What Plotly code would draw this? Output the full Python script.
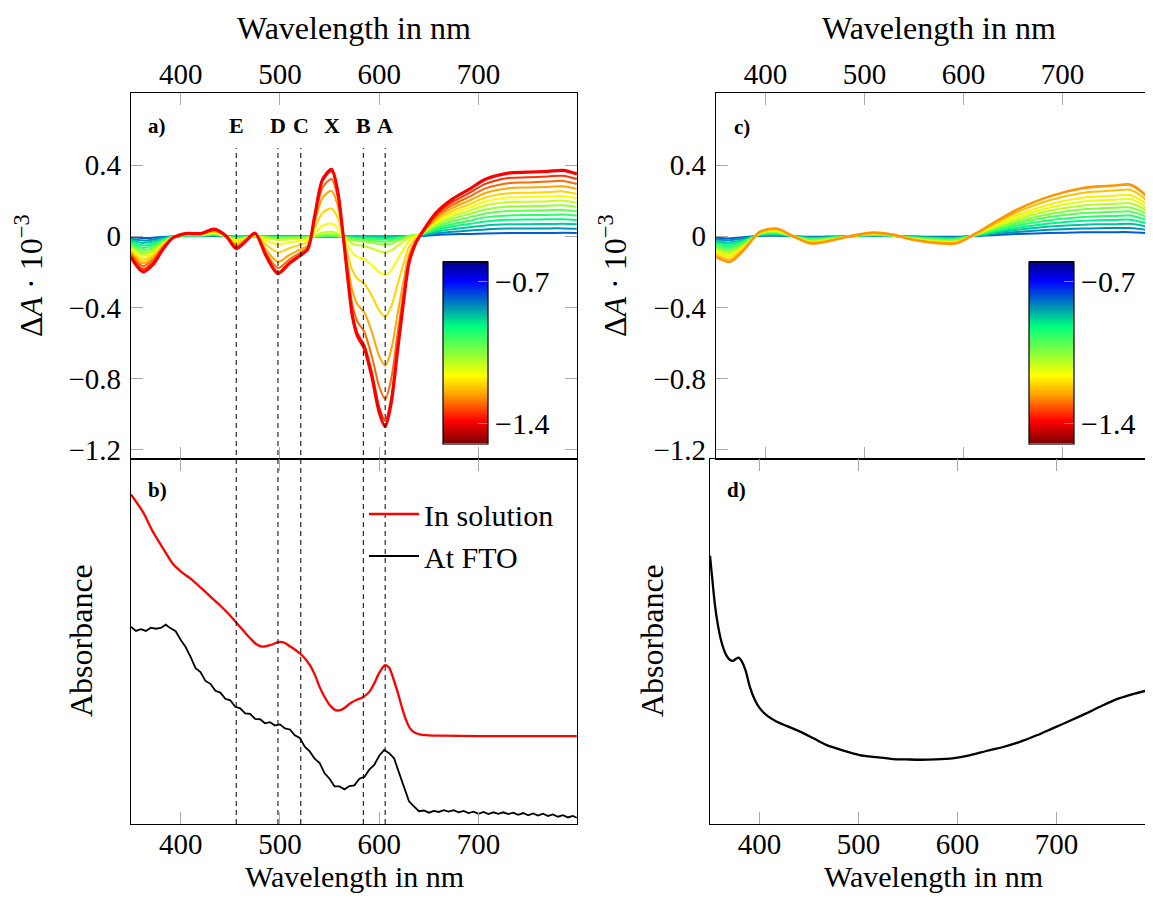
import plotly.graph_objects as go
from plotly.colors import sample_colorscale

OFF = 8                      # page body margin around the figure
W, H = 1153 - 2 * OFF, 903 - 2 * OFF   # figure fits the window without scrollbars
FONT = "Liberation Serif, Times New Roman, serif"

# ---------------- data: panel a (transient spectra, Delta A * 1e3) ----------------
WL_A = [350, 362, 372, 382, 392, 405, 420, 434, 446, 456, 466,
        475, 486, 498, 510, 520, 528, 535, 543, 552, 558, 563,
        568, 573, 578, 585, 593, 600, 606, 612, 618, 624, 630,
        637, 643, 657, 674, 691, 707, 730, 750, 770, 785, 799]

dA_a_01 = [-0.006, -0.010, -0.008, -0.004, -0.001, 0.001, 0.001, 0.002, 0.000, -0.002, -0.001,
           0.000, 0.000, -0.001, -0.001, -0.001, -0.001, -0.001, -0.001, -0.001, -0.001, -0.001,
           -0.001, -0.001, -0.001, -0.001, -0.001, -0.001, -0.001, -0.001, 0.000, 0.000, 0.001,
           0.001, 0.002, 0.007, 0.011, 0.013, 0.016, 0.018, 0.018, 0.018, 0.019, 0.018]
dA_a_02 = [-0.014, -0.024, -0.019, -0.009, -0.001, 0.002, 0.002, 0.004, 0.000, -0.004, -0.002,
           0.000, -0.001, -0.001, -0.001, -0.001, -0.001, -0.001, -0.001, -0.001, -0.001, -0.001,
           -0.001, -0.001, -0.001, -0.001, -0.001, -0.001, -0.001, -0.001, -0.001, 0.000, 0.001,
           0.002, 0.004, 0.016, 0.025, 0.032, 0.038, 0.043, 0.043, 0.044, 0.044, 0.042]
dA_a_03 = [-0.023, -0.038, -0.030, -0.014, -0.002, 0.003, 0.003, 0.006, 0.000, -0.006, -0.003,
           0.000, -0.001, -0.002, -0.002, -0.002, -0.002, -0.002, -0.002, -0.002, -0.002, -0.002,
           -0.002, -0.002, -0.002, -0.002, -0.002, -0.002, -0.002, -0.002, -0.001, 0.000, 0.002,
           0.004, 0.007, 0.025, 0.040, 0.050, 0.061, 0.067, 0.068, 0.069, 0.070, 0.067]
dA_a_04 = [-0.031, -0.052, -0.042, -0.020, -0.003, 0.004, 0.004, 0.008, 0.000, -0.008, -0.004,
           0.000, -0.002, -0.005, -0.004, -0.004, -0.003, -0.001, 0.001, 0.001, 0.000, -0.002,
           -0.005, -0.007, -0.008, -0.009, -0.010, -0.012, -0.013, -0.012, -0.008, -0.004, 0.001,
           0.005, 0.009, 0.034, 0.055, 0.069, 0.083, 0.092, 0.094, 0.095, 0.096, 0.091]
dA_a_05 = [-0.040, -0.066, -0.053, -0.025, -0.003, 0.005, 0.005, 0.010, 0.000, -0.011, -0.005,
           0.000, -0.003, -0.006, -0.005, -0.005, -0.004, -0.001, 0.002, 0.003, 0.001, -0.003,
           -0.006, -0.010, -0.012, -0.013, -0.015, -0.018, -0.019, -0.017, -0.012, -0.006, 0.001,
           0.006, 0.011, 0.043, 0.069, 0.087, 0.106, 0.117, 0.119, 0.120, 0.122, 0.116]
dA_a_06 = [-0.048, -0.080, -0.064, -0.030, -0.004, 0.006, 0.006, 0.012, 0.000, -0.013, -0.006,
           0.000, -0.005, -0.009, -0.008, -0.007, -0.006, -0.001, 0.004, 0.006, 0.003, -0.003,
           -0.009, -0.015, -0.018, -0.020, -0.024, -0.029, -0.031, -0.027, -0.019, -0.010, 0.000,
           0.007, 0.014, 0.052, 0.084, 0.106, 0.128, 0.142, 0.144, 0.146, 0.148, 0.140]
dA_a_07 = [-0.056, -0.094, -0.075, -0.035, -0.005, 0.007, 0.007, 0.014, 0.000, -0.016, -0.007,
           0.001, -0.007, -0.013, -0.010, -0.009, -0.007, 0.000, 0.009, 0.011, 0.006, -0.003,
           -0.013, -0.022, -0.027, -0.030, -0.036, -0.044, -0.047, -0.042, -0.029, -0.016, -0.002,
           0.007, 0.016, 0.061, 0.099, 0.125, 0.150, 0.167, 0.169, 0.172, 0.174, 0.165]
dA_a_08 = [-0.065, -0.108, -0.086, -0.041, -0.005, 0.008, 0.008, 0.017, 0.000, -0.019, -0.009,
           0.001, -0.011, -0.021, -0.017, -0.013, -0.010, 0.005, 0.021, 0.025, 0.016, -0.001,
           -0.022, -0.041, -0.049, -0.055, -0.069, -0.084, -0.090, -0.080, -0.056, -0.031, -0.008,
           0.006, 0.018, 0.070, 0.113, 0.143, 0.173, 0.192, 0.194, 0.197, 0.200, 0.189]
dA_a_09 = [-0.073, -0.122, -0.098, -0.046, -0.006, 0.009, 0.009, 0.020, 0.000, -0.026, -0.011,
           0.003, -0.024, -0.046, -0.034, -0.026, -0.019, 0.019, 0.060, 0.071, 0.048, 0.004,
           -0.048, -0.094, -0.116, -0.130, -0.164, -0.202, -0.218, -0.192, -0.135, -0.078, -0.026,
           0.001, 0.018, 0.079, 0.128, 0.162, 0.195, 0.217, 0.220, 0.223, 0.226, 0.214]
dA_a_10 = [-0.082, -0.136, -0.109, -0.051, -0.007, 0.010, 0.010, 0.025, 0.000, -0.037, -0.014,
           0.007, -0.047, -0.091, -0.066, -0.049, -0.033, 0.045, 0.132, 0.155, 0.107, 0.014,
           -0.095, -0.192, -0.238, -0.267, -0.339, -0.418, -0.452, -0.397, -0.281, -0.164, -0.060,
           -0.009, 0.018, 0.088, 0.143, 0.180, 0.218, 0.241, 0.245, 0.248, 0.252, 0.238]
dA_a_11 = [-0.091, -0.152, -0.122, -0.057, -0.008, 0.011, 0.011, 0.030, 0.000, -0.050, -0.018,
           0.012, -0.075, -0.144, -0.103, -0.076, -0.051, 0.077, 0.217, 0.255, 0.176, 0.026,
           -0.150, -0.307, -0.382, -0.429, -0.545, -0.674, -0.728, -0.640, -0.453, -0.265, -0.101,
           -0.022, 0.016, 0.099, 0.160, 0.201, 0.243, 0.270, 0.274, 0.277, 0.281, 0.266]
dA_a_12 = [-0.101, -0.168, -0.134, -0.063, -0.008, 0.013, 0.013, 0.034, 0.000, -0.060, -0.021,
           0.015, -0.094, -0.179, -0.128, -0.094, -0.062, 0.098, 0.274, 0.322, 0.222, 0.034,
           -0.188, -0.385, -0.479, -0.538, -0.684, -0.846, -0.915, -0.804, -0.569, -0.333, -0.128,
           -0.030, 0.016, 0.109, 0.176, 0.223, 0.269, 0.298, 0.302, 0.307, 0.311, 0.294]
dA_a_13 = [-0.110, -0.184, -0.147, -0.069, -0.009, 0.014, 0.014, 0.037, 0.000, -0.066, -0.024,
           0.016, -0.107, -0.203, -0.145, -0.106, -0.070, 0.111, 0.311, 0.365, 0.253, 0.039,
           -0.213, -0.436, -0.543, -0.611, -0.775, -0.960, -1.037, -0.911, -0.645, -0.378, -0.146,
           -0.035, 0.018, 0.120, 0.193, 0.244, 0.294, 0.327, 0.331, 0.336, 0.340, 0.322]
dA_a_14 = [-0.120, -0.200, -0.160, -0.075, -0.010, 0.015, 0.015, 0.040, 0.000, -0.070, -0.025,
           0.017, -0.110, -0.210, -0.150, -0.110, -0.073, 0.114, 0.320, 0.376, 0.260, 0.040,
           -0.220, -0.450, -0.560, -0.630, -0.800, -0.990, -1.070, -0.940, -0.665, -0.390, -0.150,
           -0.035, 0.020, 0.130, 0.210, 0.265, 0.320, 0.355, 0.360, 0.365, 0.370, 0.350]

# colour value (colour-bar quantity) of each spectrum in panel a
COLOR_VAL_A = [-0.78, -0.83, -0.875, -0.92, -0.97, -1.02, -1.065,
               -1.115, -1.16, -1.21, -1.255, -1.305, -1.35, -1.40]

# ---------------- data: panel c (transient spectra, Delta A * 1e3) ----------------
WL_C = [350, 364, 378, 394, 411, 428, 445, 462, 485, 509, 529, 549, 576,
        593, 613, 630, 654, 687, 721, 738, 753, 768, 780, 791, 799]

dA_c_01 = [-0.009, -0.012, -0.006, 0.002, 0.003, 0.000, -0.003, -0.002, 0.000, 0.002, 0.001, -0.002, -0.003,
           -0.003, 0.001, 0.006, 0.012, 0.018, 0.022, 0.022, 0.023, 0.023, 0.020, 0.015, 0.014]
dA_c_02 = [-0.019, -0.023, -0.012, 0.004, 0.007, 0.000, -0.006, -0.005, 0.000, 0.003, 0.001, -0.003, -0.006,
           -0.006, 0.003, 0.012, 0.024, 0.036, 0.043, 0.045, 0.046, 0.046, 0.040, 0.030, 0.027]
dA_c_03 = [-0.028, -0.035, -0.019, 0.006, 0.010, 0.000, -0.010, -0.007, 0.000, 0.005, 0.002, -0.005, -0.010,
           -0.010, 0.004, 0.018, 0.036, 0.054, 0.065, 0.067, 0.068, 0.070, 0.060, 0.046, 0.041]
dA_c_04 = [-0.037, -0.046, -0.025, 0.008, 0.014, 0.000, -0.013, -0.010, 0.000, 0.006, 0.003, -0.006, -0.013,
           -0.013, 0.005, 0.024, 0.048, 0.072, 0.087, 0.090, 0.091, 0.093, 0.080, 0.061, 0.054]
dA_c_05 = [-0.046, -0.058, -0.031, 0.010, 0.017, 0.000, -0.016, -0.012, 0.000, 0.008, 0.003, -0.008, -0.016,
           -0.016, 0.007, 0.030, 0.060, 0.090, 0.108, 0.112, 0.114, 0.116, 0.100, 0.076, 0.068]
dA_c_06 = [-0.056, -0.069, -0.037, 0.012, 0.021, 0.000, -0.019, -0.014, 0.000, 0.010, 0.004, -0.010, -0.019,
           -0.019, 0.008, 0.036, 0.072, 0.108, 0.130, 0.134, 0.137, 0.139, 0.120, 0.091, 0.082]
dA_c_07 = [-0.065, -0.081, -0.044, 0.013, 0.024, 0.000, -0.022, -0.017, 0.000, 0.011, 0.004, -0.011, -0.022,
           -0.022, 0.010, 0.041, 0.083, 0.125, 0.152, 0.157, 0.160, 0.162, 0.140, 0.106, 0.095]
dA_c_08 = [-0.074, -0.092, -0.050, 0.015, 0.028, 0.000, -0.026, -0.019, 0.000, 0.013, 0.005, -0.013, -0.026,
           -0.026, 0.011, 0.047, 0.095, 0.143, 0.173, 0.179, 0.182, 0.186, 0.160, 0.122, 0.109]
dA_c_09 = [-0.084, -0.104, -0.056, 0.017, 0.031, 0.000, -0.029, -0.022, 0.000, 0.014, 0.006, -0.014, -0.029,
           -0.029, 0.012, 0.053, 0.107, 0.161, 0.195, 0.202, 0.205, 0.209, 0.180, 0.137, 0.122]
dA_c_10 = [-0.093, -0.115, -0.062, 0.019, 0.034, 0.000, -0.032, -0.024, 0.000, 0.016, 0.006, -0.016, -0.032,
           -0.032, 0.014, 0.059, 0.119, 0.179, 0.217, 0.224, 0.228, 0.232, 0.200, 0.152, 0.136]
dA_c_11 = [-0.104, -0.130, -0.070, 0.022, 0.039, 0.000, -0.036, -0.027, 0.000, 0.018, 0.007, -0.018, -0.036,
           -0.036, 0.015, 0.067, 0.134, 0.202, 0.244, 0.252, 0.257, 0.261, 0.225, 0.171, 0.153]
dA_c_12 = [-0.116, -0.144, -0.078, 0.024, 0.043, 0.000, -0.040, -0.030, 0.000, 0.020, 0.008, -0.020, -0.040,
           -0.040, 0.017, 0.074, 0.149, 0.224, 0.271, 0.280, 0.285, 0.290, 0.250, 0.190, 0.170]

COLOR_VAL_C = [-0.78, -0.825, -0.87, -0.915, -0.96, -1.005, -1.05,
               -1.095, -1.14, -1.185, -1.23, -1.27]

# ---------------- data: panel b (absorbance, arbitrary units) ----------------
SOL_NM = [350, 362, 372, 383, 393, 402, 410, 420, 430, 440, 446, 456, 465, 470, 476, 482, 490,
          500, 505, 510, 516, 522, 530, 535, 540, 545, 551, 556, 561, 566, 571, 578, 584, 590,
          595, 600, 606, 610, 614, 619, 623, 627, 631, 636, 642, 650, 660, 700, 750, 799]
SOL_ABS = [0.903, 0.855, 0.801, 0.752, 0.710, 0.688, 0.672, 0.648, 0.623, 0.598, 0.582, 0.552,
           0.524, 0.509, 0.493, 0.486, 0.490, 0.499, 0.496, 0.487, 0.476, 0.463, 0.436, 0.410,
           0.375, 0.348, 0.323, 0.312, 0.312, 0.320, 0.331, 0.341, 0.348, 0.362, 0.385, 0.414,
           0.435, 0.428, 0.400, 0.357, 0.318, 0.285, 0.262, 0.250, 0.245, 0.243, 0.242, 0.241,
           0.241, 0.241]

FTO_NM = [350, 355, 360, 365, 370, 375, 380, 385, 390, 395, 400, 405, 410, 415, 420, 425, 430,
          435, 440, 445, 450, 455, 460, 465, 470, 475, 480, 485, 490, 495, 500, 505, 510, 515,
          520, 525, 530, 535, 540, 545, 550, 555, 560, 565, 570, 575, 580, 585, 590, 595, 600,
          605, 610, 615, 620, 625, 630, 635, 640, 645, 650, 655, 660, 665, 670, 675, 680, 685,
          690, 695, 700, 705, 710, 715, 720, 725, 730, 735, 740, 745, 750, 755, 760, 765, 770,
          775, 780, 785, 790, 795, 799]
FTO_ABS = [0.540, 0.529, 0.534, 0.529, 0.538, 0.535, 0.537, 0.546, 0.536, 0.528, 0.505, 0.485,
           0.458, 0.427, 0.416, 0.392, 0.384, 0.365, 0.360, 0.343, 0.339, 0.321, 0.317, 0.303,
           0.302, 0.288, 0.287, 0.276, 0.279, 0.270, 0.273, 0.262, 0.259, 0.243, 0.236, 0.212,
           0.199, 0.179, 0.167, 0.139, 0.124, 0.103, 0.103, 0.095, 0.104, 0.106, 0.124, 0.129,
           0.149, 0.162, 0.187, 0.203, 0.194, 0.180, 0.140, 0.100, 0.062, 0.048, 0.035, 0.037,
           0.031, 0.036, 0.033, 0.038, 0.034, 0.038, 0.032, 0.036, 0.030, 0.034, 0.028, 0.033,
           0.027, 0.032, 0.028, 0.032, 0.027, 0.031, 0.025, 0.030, 0.024, 0.029, 0.023, 0.028,
           0.022, 0.026, 0.020, 0.024, 0.018, 0.022, 0.017]

# ---------------- data: panel d (absorbance, arbitrary units) ----------------
D_NM = [350, 352, 355, 358, 361, 364, 367, 370, 373, 376, 379, 382, 386, 390, 395, 400, 408,
        417, 428, 441, 455, 468, 485, 501, 518, 535, 548, 562, 578, 595, 612, 629, 646, 663,
        680, 696, 713, 730, 746, 763, 780, 796, 800]
D_ABS = [0.735, 0.680, 0.600, 0.545, 0.505, 0.478, 0.460, 0.450, 0.447, 0.452, 0.456, 0.446,
         0.420, 0.378, 0.342, 0.318, 0.296, 0.281, 0.268, 0.253, 0.234, 0.216, 0.201, 0.189,
         0.183, 0.178, 0.177, 0.176, 0.177, 0.180, 0.188, 0.200, 0.211, 0.225, 0.243, 0.262,
         0.282, 0.303, 0.324, 0.344, 0.358, 0.369, 0.372]

# band positions (nm) and their labels
BAND_NM = [456, 498, 521, 584, 606]
BAND_LABELS = ["E", "D", "C", "B", "A"]
X_BAND_NM = 552
X_BAND_LABEL = "X"

TICKS_NM = [400, 500, 600, 700]
TICKS_DA = [-1.2, -0.8, -0.4, 0, 0.4]
TICKTEXT_DA = ["\u22121.2", "\u22120.8", "\u22120.4", "0", "0.4"]
CBAR_TICKS = [-0.7, -1.4]
CBAR_TEXT = ["\u22120.7", "\u22121.4"]

# ---------------- styling ----------------
CMIN, CMAX = -1.5, -0.6
CSCALE = [[0.0, 'rgb(128,0,0)'], [0.12, 'rgb(255,0,0)'], [0.27, 'rgb(255,165,0)'],
          [0.37, 'rgb(255,255,0)'], [0.64, 'rgb(0,255,128)'], [0.89, 'rgb(0,0,255)'],
          [1.0, 'rgb(0,0,128)']]


def col(v):
    return sample_colorscale(CSCALE, [(v - CMIN) / (CMAX - CMIN)])[0]


def px(p):
    """page pixel -> paper x fraction"""
    return (p - OFF) / W


def py(p):
    """page pixel -> paper y fraction"""
    return 1 - (p - OFF) / H


fig = go.Figure()

A_CURVES = [dA_a_01, dA_a_02, dA_a_03, dA_a_04, dA_a_05, dA_a_06, dA_a_07,
            dA_a_08, dA_a_09, dA_a_10, dA_a_11, dA_a_12, dA_a_13, dA_a_14]
for i, (vals, cv) in enumerate(zip(A_CURVES, COLOR_VAL_A)):
    fig.add_trace(go.Scatter(x=WL_A, y=vals, mode='lines', xaxis='x', yaxis='y',
                             line=dict(color=col(cv), width=3.2 if i == len(A_CURVES) - 1 else 2,
                                       shape='spline', smoothing=0.8),
                             showlegend=False, hoverinfo='skip'))

C_CURVES = [dA_c_01, dA_c_02, dA_c_03, dA_c_04, dA_c_05, dA_c_06,
            dA_c_07, dA_c_08, dA_c_09, dA_c_10, dA_c_11, dA_c_12]
for i, (vals, cv) in enumerate(zip(C_CURVES, COLOR_VAL_C)):
    fig.add_trace(go.Scatter(x=WL_C, y=vals, mode='lines', xaxis='x3', yaxis='y3',
                             line=dict(color=col(cv), width=2.6 if i == len(C_CURVES) - 1 else 2,
                                       shape='spline', smoothing=0.8),
                             showlegend=False, hoverinfo='skip'))

fig.add_trace(go.Scatter(x=SOL_NM, y=SOL_ABS, mode='lines', xaxis='x2', yaxis='y2',
                         name='In solution', line=dict(color='rgb(255,0,0)', width=2.3,
                                                       shape='spline', smoothing=0.8)))
fig.add_trace(go.Scatter(x=FTO_NM, y=FTO_ABS, mode='lines', xaxis='x2', yaxis='y2',
                         name='At FTO', line=dict(color='black', width=1.8)))
fig.add_trace(go.Scatter(x=D_NM, y=D_ABS, mode='lines', xaxis='x4', yaxis='y4',
                         showlegend=False, line=dict(color='black', width=2.3,
                                                     shape='spline', smoothing=0.8)))


def cbar(left_px):
    return dict(x=px(left_px), xanchor='left', xpad=0, xref='paper',
                y=py(352.5), yanchor='middle', ypad=0, yref='paper',
                len=182, lenmode='pixels', thickness=45, thicknessmode='pixels',
                outlinewidth=1.2, outlinecolor='black', borderwidth=0,
                tickvals=CBAR_TICKS, ticktext=CBAR_TEXT, ticks='inside', ticklen=10,
                tickcolor='#9a9a9a', tickwidth=1.2,
                tickfont=dict(family=FONT, size=30, color='black'))


for xa, ya, left in (('x', 'y', 443), ('x3', 'y3', 1029)):
    fig.add_trace(go.Scatter(x=[WL_A[0]], y=[0], mode='markers', xaxis=xa, yaxis=ya,
                             marker=dict(color=[CMAX], cmin=CMIN, cmax=CMAX, colorscale=CSCALE,
                                         opacity=0, size=1, showscale=True, colorbar=cbar(left)),
                             showlegend=False, hoverinfo='skip'))

tickfont = dict(family=FONT, size=29, color='black')
base = dict(showline=True, linecolor='black', linewidth=1.3, showgrid=False, zeroline=False,
            ticks='inside', ticklen=12, tickwidth=1.3, tickcolor='#a8a8a8', tickfont=tickfont)

y_top = [py(459), py(93)]
y_bot = [py(824), py(459)]
C_RIGHT = 350 + (OFF + W - 716) / 0.99   # right panels are cut by the page edge
D_RIGHT = 350 + (OFF + W - 710) / 0.99

fig.update_layout(
    width=W, height=H, margin=dict(l=0, r=0, t=0, b=0, autoexpand=False),
    paper_bgcolor='white', plot_bgcolor='white',
    font=dict(family=FONT, size=28, color='black'),
    xaxis=dict(base, domain=[px(131), px(577)], anchor='y', side='top', range=[350, 799.2],
               tickvals=TICKS_NM, mirror='allticks', ticklabelstandoff=-4),
    yaxis=dict(base, domain=y_top, anchor='x', range=[-1.252, 0.805], tickvals=TICKS_DA,
               ticktext=TICKTEXT_DA, mirror='allticks', ticklabelstandoff=3),
    xaxis2=dict(base, domain=[px(131), px(577)], anchor='y2', side='bottom', range=[350, 799.2],
                tickvals=TICKS_NM, mirror='allticks', ticklabelstandoff=-6),
    yaxis2=dict(base, domain=y_bot, anchor='x2', range=[0, 1], ticks='', showticklabels=False,
                mirror=True),
    xaxis3=dict(base, domain=[px(716), 1.0], anchor='y3', side='top', range=[350, C_RIGHT],
                tickvals=TICKS_NM, mirror='allticks', ticklabelstandoff=-4),
    yaxis3=dict(base, domain=y_top, anchor='x3', range=[-1.252, 0.805], tickvals=TICKS_DA,
                ticktext=TICKTEXT_DA, mirror=False, ticklabelstandoff=3),
    xaxis4=dict(base, domain=[px(710), 1.0], anchor='y4', side='bottom', range=[350, D_RIGHT],
                tickvals=TICKS_NM, mirror='allticks', ticklabelstandoff=-6),
    yaxis4=dict(base, domain=y_bot, anchor='x4', range=[0, 1], ticks='', showticklabels=False,
                mirror=False),
    legend=dict(x=px(364), y=py(488), xanchor='left', yanchor='top',
                bgcolor='rgba(0,0,0,0)', borderwidth=0, itemwidth=50,
                font=dict(family=FONT, size=30, color='black'), tracegroupgap=0),
)

shapes = []
for b in BAND_NM:
    shapes.append(dict(type='line', xref='x', yref='paper', x0=b, x1=b,
                       y0=py(824), y1=py(148), layer='above',
                       line=dict(color='black', width=1, dash='5px,4px')))
fig.update_layout(shapes=shapes)

ann = []
for (x, y, t, s) in ((354, 28, 'Wavelength in nm', 32), (939, 28, 'Wavelength in nm', 32),
                     (354, 876, 'Wavelength in nm', 30), (933, 876, 'Wavelength in nm', 30)):
    ann.append(dict(x=px(x), y=py(y), xref='paper', yref='paper', text=t, showarrow=False,
                    xanchor='center', yanchor='middle',
                    font=dict(family=FONT, size=s, color='black')))
for (x, y, t) in ((29, 276, 'Δ<i>A</i> · 10<sup>−3</sup>'), (613, 276, 'Δ<i>A</i> · 10<sup>−3</sup>'),
                  (81, 641, 'Absorbance'), (652, 641, 'Absorbance')):
    ann.append(dict(x=px(x), y=py(y), xref='paper', yref='paper', text=t, showarrow=False,
                    textangle=-90, xanchor='center', yanchor='middle',
                    font=dict(family=FONT, size=32, color='black')))
for (x, y, t) in ((157, 126, 'a)'), (157, 490, 'b)'), (742, 127, 'c)'), (736, 490, 'd)')):
    ann.append(dict(x=px(x), y=py(y), xref='paper', yref='paper', text='<b>%s</b>' % t,
                    showarrow=False, xanchor='center', yanchor='middle',
                    font=dict(family=FONT, size=21, color='black')))
for b, t in list(zip(BAND_NM, BAND_LABELS)) + [(X_BAND_NM, X_BAND_LABEL)]:
    ann.append(dict(x=b, y=py(126), xref='x', yref='paper', text='<b>%s</b>' % t,
                    showarrow=False, xanchor='center', yanchor='middle',
                    font=dict(family=FONT, size=22, color='black')))
fig.update_layout(annotations=ann)

fig.write_html("out.html")
